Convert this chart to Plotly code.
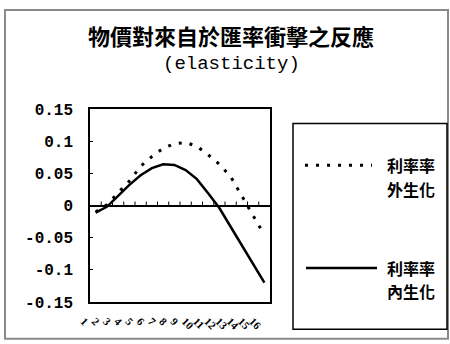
import plotly.graph_objects as go

# Impulse-response periods and the two response series
periods = list(range(1, 17))
exogenous_rate = [-0.010, 0.001, 0.020, 0.038, 0.061, 0.076, 0.089, 0.096,
                  0.098, 0.092, 0.079, 0.064, 0.045, 0.014, -0.015, -0.046]
endogenous_rate = [-0.011, -0.002, 0.015, 0.032, 0.047, 0.058, 0.064, 0.063,
                   0.055, 0.041, 0.019, -0.004, -0.033, -0.062, -0.091, -0.120]
y_ticks = [0.15, 0.1, 0.05, 0, -0.05, -0.1, -0.15]
y_tick_text = ["0.15", "0.1", "0.05", "0", "-0.05", "-0.1", "-0.15"]

title_text = "物價對來自於匯率衝擊之反應"
subtitle_text = "(elasticity)"
legend_exo = ["利率率", "外生化"]
legend_endo = ["利率率", "內生化"]

W, H = 450, 344
L, R, T, B = 90, 270, 109, 308  # plot-area pixel box


def px(x):
    return (x - L) / (R - L)


def py(y):
    return (B - y) / (B - T)


CJK = "Noto Sans CJK TC"
MONO = "Liberation Mono"

fig = go.Figure()
fig.add_trace(go.Scatter(x=periods, y=exogenous_rate, mode="lines",
                         line=dict(color="black", width=3, dash="3px,8px"),
                         showlegend=False, hoverinfo="skip"))
fig.add_trace(go.Scatter(x=periods, y=endogenous_rate, mode="lines",
                         line=dict(color="black", width=2.5),
                         showlegend=False, hoverinfo="skip"))

shapes = [
    # outer chart border
    dict(type="rect", xref="paper", yref="paper",
         x0=px(5), x1=px(448), y0=py(346), y1=py(7),
         line=dict(color="#8a8a8a", width=2)),
    # legend box
    dict(type="rect", xref="paper", yref="paper",
         x0=px(293), x1=px(447), y0=py(336), y1=py(124),
         line=dict(color="black", width=1.5)),
    # legend samples
    dict(type="line", xref="paper", yref="paper",
         x0=px(305), x1=px(372), y0=py(167), y1=py(167),
         line=dict(color="black", width=3, dash="3px,8px")),
    dict(type="line", xref="paper", yref="paper",
         x0=px(306), x1=px(377), y0=py(273), y1=py(273),
         line=dict(color="black", width=2.5)),
]
# category-boundary tick marks standing on the zero line
for p in periods[:-1]:
    shapes.append(dict(type="line", xref="x", yref="y",
                       x0=p + 0.5, x1=p + 0.5,
                       ysizemode="pixel", yanchor=0, y0=0, y1=4,
                       line=dict(color="black", width=1)))

annotations = [
    dict(text=title_text, x=px(231), y=py(33), xref="paper", yref="paper",
         showarrow=False, xanchor="center", yanchor="middle",
         font=dict(family=CJK, size=22, color="black", weight="bold")),
    dict(text=subtitle_text, x=px(231), y=py(63), xref="paper", yref="paper",
         showarrow=False, xanchor="center", yanchor="middle",
         font=dict(family=MONO, size=19, color="black")),
]
# two-line legend labels, each line its own text
for lines, yc in ((legend_exo, 167), (legend_endo, 273)):
    for i, t in enumerate(lines):
        annotations.append(dict(
            text=t, x=px(437), y=py(yc + i * 24), xref="paper", yref="paper",
            showarrow=False, xanchor="right", yanchor="middle",
            font=dict(family=CJK, size=16, color="black", weight="bold")))

fig.update_layout(
    width=W, height=H,
    margin=dict(l=L, r=W - R, t=T, b=H - B, pad=0),
    paper_bgcolor="white", plot_bgcolor="white",
    xaxis=dict(range=[0.5, 16.5], tickmode="array", tickvals=periods,
               ticktext=[str(p) for p in periods], tickangle=45,
               ticks="", showgrid=False, zeroline=False,
               showline=True, mirror=True, linecolor="black", linewidth=1.5,
               tickfont=dict(family="Liberation Serif", size=11, color="black",
                             weight="bold"),
               ticklabelshift=-12, ticklabelstandoff=7),
    yaxis=dict(range=[-0.15, 0.15], tickmode="array", tickvals=y_ticks,
               ticktext=y_tick_text, ticks="inside", ticklen=3,
               tickcolor="black", showgrid=False,
               zeroline=True, zerolinecolor="black", zerolinewidth=1.5,
               showline=True, mirror=True, linecolor="black", linewidth=1.5,
               tickfont=dict(family=MONO, size=16, color="black", weight="bold"),
               ticklabelstandoff=12),
    shapes=shapes,
    annotations=annotations,
)

fig.write_html("out.html")
